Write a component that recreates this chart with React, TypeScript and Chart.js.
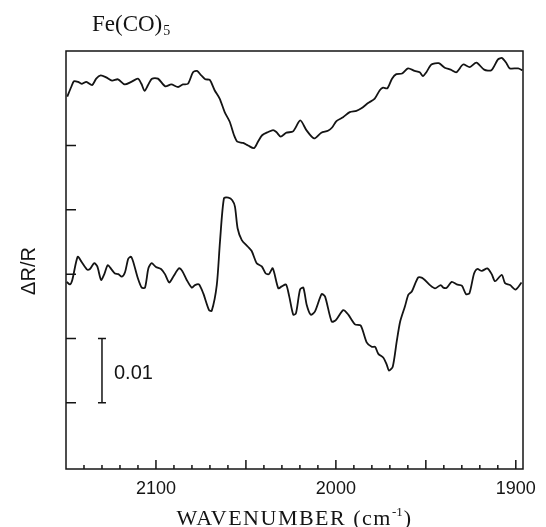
import React, { useEffect, useRef } from "react";
import { Chart, registerables } from "chart.js";

Chart.register(...registerables);

// Upper trace
const topWavenumbers = [2149.3, 2147.1, 2145.6, 2143.3, 2141.1, 2138.7, 2135.5, 2133.2, 2130.7, 2127.6, 2124.4, 2121.1, 2117.4, 2113.7, 2110.0, 2108.1, 2106.3, 2104.4, 2102.2, 2098.9, 2094.8, 2091.5, 2087.7, 2085.0, 2082.2, 2079.4, 2077.2, 2074.8, 2072.6, 2070.1, 2067.4, 2064.6, 2061.8, 2059.0, 2056.6, 2054.8, 2051.6, 2048.8, 2045.5, 2043.3, 2041.0, 2037.7, 2034.9, 2033.1, 2030.7, 2027.5, 2023.8, 2019.8, 2016.4, 2012.1, 2008.1, 2004.4, 2002.1, 1999.7, 1996.0, 1992.3, 1988.6, 1985.8, 1982.1, 1978.4, 1975.6, 1973.8, 1971.4, 1968.8, 1966.4, 1963.2, 1959.9, 1956.2, 1953.4, 1951.6, 1949.7, 1946.9, 1942.8, 1939.5, 1936.2, 1933.0, 1929.3, 1925.6, 1921.9, 1917.6, 1913.6, 1909.9, 1907.6, 1905.2, 1903.4, 1898.7, 1896.3];
const topValues = [0.0476, 0.0491, 0.0500, 0.0499, 0.0496, 0.0499, 0.0494, 0.0504, 0.0509, 0.0506,
  0.0501, 0.0503, 0.0495, 0.0499, 0.0504, 0.0496, 0.0485, 0.0494, 0.0504, 0.0504,
  0.0492, 0.0495, 0.0491, 0.0495, 0.0496, 0.0514, 0.0516, 0.0509, 0.0503, 0.0502,
  0.0486, 0.0473, 0.0452, 0.0437, 0.0416, 0.0406, 0.0404, 0.0400, 0.0396, 0.0406,
  0.0416, 0.0421, 0.0424, 0.0421, 0.0414, 0.0420, 0.0422, 0.0439, 0.0424, 0.0411,
  0.0420, 0.0423, 0.0428, 0.0438, 0.0444, 0.0452, 0.0454, 0.0458, 0.0466, 0.0473,
  0.0486, 0.0490, 0.0489, 0.0504, 0.0511, 0.0512, 0.0520, 0.0516, 0.0514, 0.0508,
  0.0514, 0.0526, 0.0528, 0.0521, 0.0518, 0.0514, 0.0526, 0.0522, 0.0529, 0.0518,
  0.0517, 0.0534, 0.0536, 0.0528, 0.0520, 0.0520, 0.0517];

// Lower trace
const bottomWavenumbers = [2149.6, 2147.8, 2146.5, 2143.5, 2141.3, 2138.2, 2136.7, 2134.3, 2132.6, 2130.5, 2128.7, 2126.8, 2124.6, 2122.8, 2120.9, 2119.0, 2117.2, 2115.4, 2113.9, 2112.6, 2110.1, 2107.9, 2106.1, 2104.2, 2102.4, 2100.0, 2097.2, 2095.0, 2092.6, 2090.4, 2087.2, 2085.4, 2082.9, 2080.1, 2078.3, 2076.1, 2073.7, 2070.5, 2069.0, 2066.2, 2064.4, 2062.2, 2059.8, 2057.6, 2056.1, 2054.6, 2052.3, 2049.0, 2046.8, 2044.0, 2041.2, 2039.0, 2037.2, 2035.1, 2032.0, 2030.1, 2027.7, 2025.9, 2023.7, 2022.2, 2019.9, 2018.1, 2016.2, 2014.0, 2011.6, 2007.9, 2006.0, 2002.3, 1999.9, 1995.9, 1993.1, 1989.4, 1986.2, 1982.9, 1980.1, 1978.2, 1976.4, 1973.6, 1971.7, 1970.5, 1968.4, 1966.2, 1964.3, 1961.6, 1959.7, 1957.8, 1954.2, 1951.4, 1947.7, 1944.9, 1941.7, 1940.3, 1938.4, 1935.6, 1932.8, 1930.0, 1927.7, 1925.8, 1923.2, 1921.4, 1918.9, 1915.8, 1913.4, 1911.5, 1907.8, 1906.0, 1903.2, 1900.1, 1896.8];
const bottomValues = [0.0188, 0.0184, 0.0191, 0.0227, 0.0219, 0.0207, 0.0208, 0.0217, 0.0212, 0.0191,
  0.0200, 0.0214, 0.0207, 0.0201, 0.0200, 0.0196, 0.0203, 0.0224, 0.0227, 0.0219,
  0.0194, 0.0179, 0.0179, 0.0209, 0.0217, 0.0211, 0.0208, 0.0200, 0.0187, 0.0196,
  0.0209, 0.0205, 0.0191, 0.0179, 0.0183, 0.0184, 0.0170, 0.0144, 0.0143, 0.0183,
  0.0251, 0.0318, 0.0319, 0.0315, 0.0305, 0.0271, 0.0253, 0.0243, 0.0236, 0.0217,
  0.0212, 0.0201, 0.0200, 0.0209, 0.0178, 0.0181, 0.0184, 0.0165, 0.0137, 0.0139,
  0.0176, 0.0179, 0.0152, 0.0137, 0.0142, 0.0169, 0.0165, 0.0126, 0.0129, 0.0144,
  0.0137, 0.0122, 0.0120, 0.0094, 0.0087, 0.0087, 0.0076, 0.0070, 0.0059, 0.0050,
  0.0056, 0.0095, 0.0126, 0.0150, 0.0168, 0.0173, 0.0195, 0.0193, 0.0183, 0.0178,
  0.0183, 0.0179, 0.0179, 0.0188, 0.0184, 0.0182, 0.0169, 0.0170, 0.0201, 0.0208,
  0.0205, 0.0209, 0.0200, 0.0189, 0.0199, 0.0186, 0.0183, 0.0176, 0.0187];

const xTickLabels = [2100, 2000, 1900];
const yTickValues = [0, 0.01, 0.02, 0.03, 0.04];
const xMin = 1896;
const xMax = 2150;
const yMin = -0.0103;
const yMax = 0.0547;
const scaleBarWavenumber = 2130;
const scaleBarFrom = 0;
const scaleBarTo = 0.01;
const scaleBarLabel = "0.01";
const titleMain = "Fe(CO)";
const titleSub = "5";
const yTitle = "ΔR/R";
const xTitleMain = "WAVENUMBER (cm";
const xTitleSup = "-1";
const xTitleEnd = ")";

const INK = "#141414";

const zip = (xs: number[], ys: number[]) =>
  xs.slice(0, Math.min(xs.length, ys.length)).map((x, i) => ({ x, y: ys[i] }));

const decorPlugin = {
  id: "decor",
  afterDraw(chart: any) {
    const { ctx, chartArea: a, scales } = chart;
    const x = scales.x;
    const y = scales.y;
    ctx.save();
    ctx.strokeStyle = INK;
    ctx.fillStyle = INK;
    ctx.lineWidth = 1.5;
    ctx.strokeRect(a.left, a.top, a.right - a.left, a.bottom - a.top);

    // inward ticks on left axis
    ctx.beginPath();
    for (const v of yTickValues) {
      const py = y.getPixelForValue(v);
      ctx.moveTo(a.left, py);
      ctx.lineTo(a.left + 10, py);
    }
    // inward ticks on bottom axis
    for (let w = 1900; w < xMax; w += 10) {
      const px = x.getPixelForValue(w);
      const len = w % 50 === 0 ? 9 : 4;
      ctx.moveTo(px, a.bottom);
      ctx.lineTo(px, a.bottom - len);
    }
    ctx.stroke();

    // scale bar
    const bx = x.getPixelForValue(scaleBarWavenumber);
    const by0 = y.getPixelForValue(scaleBarFrom);
    const by1 = y.getPixelForValue(scaleBarTo);
    ctx.beginPath();
    ctx.moveTo(bx, by0);
    ctx.lineTo(bx, by1);
    ctx.moveTo(bx - 4, by0);
    ctx.lineTo(bx + 4, by0);
    ctx.moveTo(bx - 4, by1);
    ctx.lineTo(bx + 4, by1);
    ctx.stroke();
    ctx.font = '20px "Liberation Sans", Arial, sans-serif';
    ctx.textAlign = "left";
    ctx.textBaseline = "middle";
    ctx.fillText(scaleBarLabel, bx + 12, (by0 + by1) / 2 + 3);

    // title
    ctx.font = '23px "Liberation Serif", "Times New Roman", serif';
    ctx.textBaseline = "alphabetic";
    ctx.fillText(titleMain, 92, 31);
    const tw = ctx.measureText(titleMain).width;
    ctx.font = '14px "Liberation Serif", "Times New Roman", serif';
    ctx.fillText(titleSub, 92 + tw + 1, 35);

    // y title
    ctx.save();
    ctx.translate(29, 271);
    ctx.rotate(-Math.PI / 2);
    ctx.font = '20px "Liberation Sans", Arial, sans-serif';
    ctx.textAlign = "center";
    ctx.textBaseline = "middle";
    ctx.fillText(yTitle, 0, 0);
    ctx.restore();

    // x title
    const big = '22px "Liberation Serif", "Times New Roman", serif';
    const small = '13px "Liberation Serif", "Times New Roman", serif';
    (ctx as any).letterSpacing = "1.5px";
    ctx.font = big;
    const w1 = ctx.measureText(xTitleMain + " ").width - ctx.measureText(" ").width;
    const w3 = ctx.measureText(xTitleEnd).width;
    ctx.font = small;
    (ctx as any).letterSpacing = "0px";
    const w2 = ctx.measureText(xTitleSup).width + 1;
    const total = w1 + w2 + w3;
    const cx = (a.left + a.right) / 2;
    let sx = cx - total / 2;
    const base = 525;
    ctx.textAlign = "left";
    ctx.textBaseline = "alphabetic";
    ctx.font = big;
    (ctx as any).letterSpacing = "1.5px";
    ctx.fillText(xTitleMain, sx, base);
    sx += w1;
    ctx.font = small;
    (ctx as any).letterSpacing = "0px";
    ctx.fillText(xTitleSup, sx, base - 9);
    sx += w2;
    ctx.font = big;
    ctx.fillText(xTitleEnd, sx, base);
    ctx.restore();
  },
};

export default function App() {
  const canvasRef = useRef<HTMLCanvasElement | null>(null);

  useEffect(() => {
    const canvas = canvasRef.current;
    if (!canvas) return;
    const chart = new Chart(canvas, {
      type: "line",
      data: {
        datasets: [
          {
            data: zip(topWavenumbers, topValues),
            borderColor: INK,
            borderWidth: 1.8,
            pointRadius: 0,
            tension: 0.25,
            fill: false,
          },
          {
            data: zip(bottomWavenumbers, bottomValues),
            borderColor: INK,
            borderWidth: 1.8,
            pointRadius: 0,
            tension: 0.25,
            fill: false,
          },
        ],
      },
      options: {
        animation: false,
        responsive: false,
        devicePixelRatio: 1,
        layout: { padding: { top: 51, right: 23, left: 0, bottom: 0 } },
        plugins: {
          legend: { display: false },
          tooltip: { enabled: false },
          title: { display: false },
        },
        scales: {
          x: {
            type: "linear",
            reverse: true,
            min: xMin,
            max: xMax,
            grid: { display: false, drawTicks: false },
            border: { display: false },
            afterBuildTicks: (s: any) => {
              s.ticks = xTickLabels.map((v) => ({ value: v }));
            },
            afterFit: (s: any) => {
              s.height = 58;
            },
            ticks: {
              autoSkip: false,
              maxRotation: 0,
              padding: 9,
              color: INK,
              font: { family: '"Liberation Sans", Arial, sans-serif', size: 18 },
              callback: (v: any) => String(v),
            },
          },
          y: {
            type: "linear",
            min: yMin,
            max: yMax,
            grid: { display: false, drawTicks: false },
            border: { display: false },
            ticks: { display: false },
            afterFit: (s: any) => {
              s.width = 66;
            },
          },
        },
      },
      plugins: [decorPlugin],
    });
    return () => chart.destroy();
  }, []);

  return (
    <div style={{ position: "fixed", left: 0, top: 0, width: 546, height: 527, background: "#fff" }}>
      <canvas ref={canvasRef} width={546} height={527} style={{ display: "block" }} />
    </div>
  );
}
